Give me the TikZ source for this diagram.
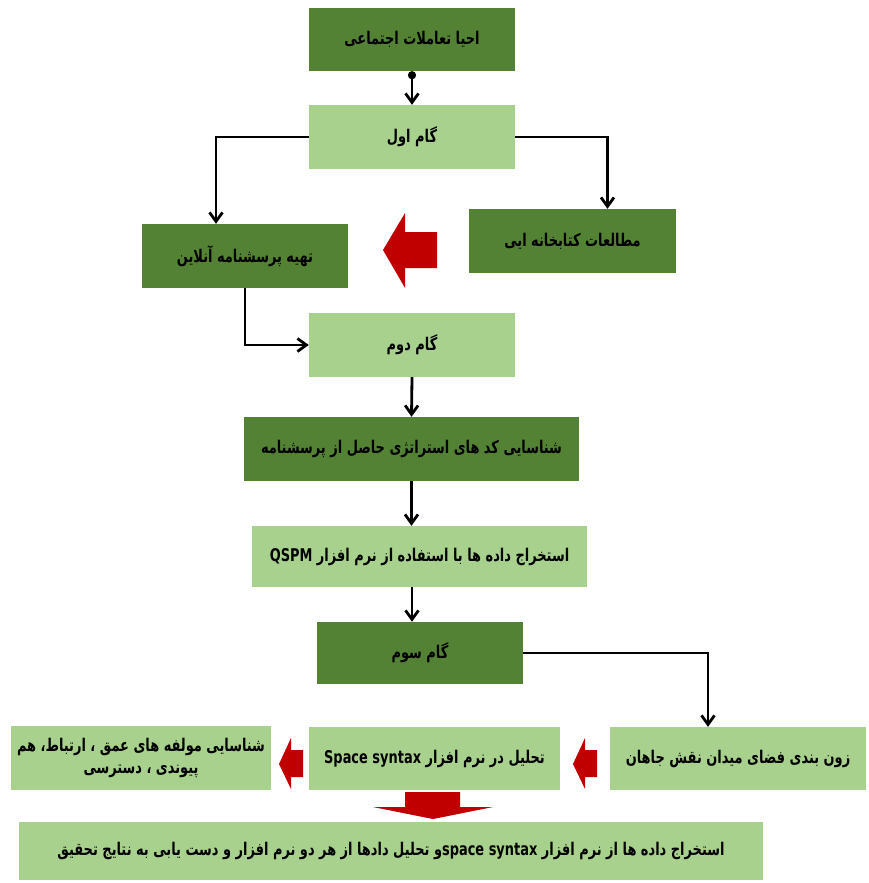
\documentclass[tikz,border=0pt]{standalone}
\usepackage{fontspec}
\TeXXeTstate=1
\newfontfamily\farsi[Script=Arabic, FakeStretch=0.74]{DejaVu Sans}
\usetikzlibrary{arrows.meta}
\definecolor{darkleaf}{HTML}{548235}
\definecolor{paleleaf}{HTML}{A9D18E}
\definecolor{blockred}{HTML}{C00000}
\newcommand{\rtl}[1]{\beginR #1\endR}
\newcommand{\ltr}[1]{\beginL #1\endL{}}

\begin{document}
\begin{tikzpicture}[x=1pt, y=-1pt,
  darkbox/.style={fill=darkleaf, inner sep=0pt, align=center, minimum width=206, minimum height=64,
    font=\farsi\bfseries\fontsize{17.5}{22}\selectfont},
  palebox/.style={darkbox, fill=paleleaf},
  flow/.style={line width=2.8pt, -{Straight Barb[length=9pt,width=13pt]}},
  blockarrow/.style={fill=blockred}]

\useasboundingbox (0,0) rectangle (869,883);

\node[darkbox, minimum height=63] (revive) at (412, 39.5) {\rtl{احیا تعاملات اجتماعی}};
\node[palebox] (step1) at (412, 137) {\rtl{گام اول}};
\node[darkbox, minimum width=207] (library) at (572.5, 241) {\rtl{مطالعات کتابخانه ایی}};
\node[darkbox] (survey) at (245, 256) {\rtl{تهیه پرسشنامه  آنلاین}};
\node[palebox] (step2) at (412, 345) {\rtl{گام دوم}};
\node[darkbox, minimum width=335] (codes) at (411.5, 449) {\rtl{شناسایی کد های استراتژی حاصل از پرسشنامه}};
\node[palebox, minimum width=335, minimum height=61] (qspm) at (419.5, 556.5) {\rtl{استخراج داده ها با استفاده از نرم افزار \ltr{QSPM}}};
\node[darkbox, minimum height=62] (step3) at (420, 653) {\rtl{گام سوم}};
\node[palebox, minimum width=256, minimum height=63] (zoning) at (738, 758.5) {\rtl{زون بندی فضای میدان نقش جاهان}};
\node[palebox, minimum width=251, minimum height=63] (syntax) at (434.5, 758.5) {\rtl{تحلیل در نرم افزار \ltr{Space syntax}}};
\node[palebox, minimum width=260] (factors) at (141, 758) {\rtl{شناسایی مولفه های عمق ، ارتباط، هم}\\\rtl{پیوندی ، دسترسی}};
\node[palebox, minimum width=744, minimum height=58] (result) at (391, 851) {\rtl{استخراج داده ها از نرم افزار \ltr{space syntax}و تحلیل دادها از هر دو نرم افزار و دست یابی به نتایج تحقیق}};

\draw[flow, {Circle[length=8pt]}-{Straight Barb[length=9pt,width=13pt]}] (revive.south) -- (step1.north);
\draw[flow] (step1.west) -| ([xshift=-29pt]survey.north);
\draw[flow] (step1.east) -| ([xshift=35pt]library.north);
\draw[flow] (survey.south) |- (step2.west);
\draw[flow] (step2.south) -- (codes.north);
\draw[flow] (codes.south) -- (codes.south |- qspm.north);
\draw[flow] ([xshift=-7.5pt]qspm.south) -- ([xshift=-7.5pt]qspm.south |- step3.north);
\draw[flow] (step3.east) -| ([xshift=-30pt]zoning.north);

\fill[blockarrow] (437,232) -- (405,232) -- (405,213) -- (383,250) -- (405,288) -- (405,268) -- (437,268) -- cycle;
\fill[blockarrow] (597,750) -- (585,750) -- (585,738) -- (573,764) -- (585,789) -- (585,777) -- (597,777) -- cycle;
\fill[blockarrow] (303,750) -- (291,750) -- (291,738) -- (279,764) -- (291,789) -- (291,777) -- (303,777) -- cycle;
\fill[blockarrow] (405,792) -- (460,792) -- (460,807) -- (493,807) -- (433,819) -- (373,807) -- (405,807) -- cycle;

\end{tikzpicture}
\end{document}
